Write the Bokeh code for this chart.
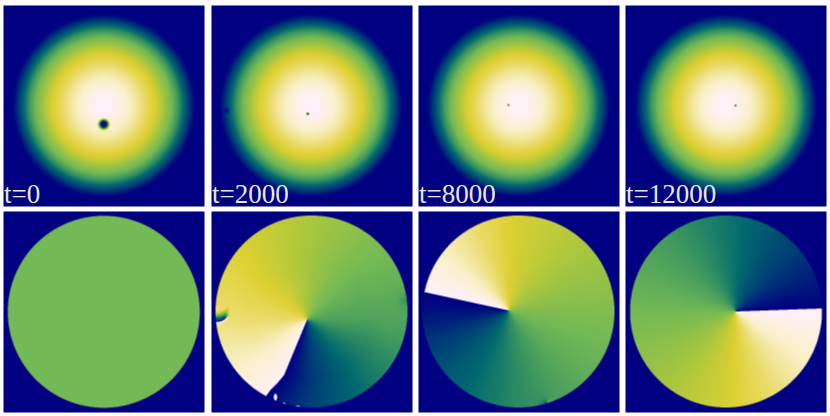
import numpy as np
from bokeh.plotting import figure
from bokeh.models import Range1d
from bokeh.embed import file_html
from bokeh.resources import INLINE

# --- values ---
labels = ["t=0", "t=2000", "t=8000", "t=12000"]

# colour scale (position, r, g, b)
scale_pos = [0.0, 0.12, 0.25, 0.38, 0.5, 0.62, 0.72, 0.8, 0.9, 1.0]
scale_r = [0, 0, 0, 60, 115, 175, 222, 235, 250, 255]
scale_g = [0, 60, 105, 150, 185, 200, 208, 220, 240, 240]
scale_b = [128, 120, 110, 95, 85, 60, 50, 110, 200, 255]

# density against distance from the trap centre (top row)
density_r = [0, 10, 22, 35, 45, 52, 60, 68, 75, 80, 85, 90, 93, 400]
density_v = [1.0, 0.98, 0.92, 0.84, 0.76, 0.71, 0.6, 0.5, 0.37, 0.25, 0.12, 0.02, 0.0, 0.0]

# phase against clockwise fraction of a turn from the cut (bottom row)
phase_f2 = [0, 0.186, 0.31, 0.436, 0.56, 0.686, 0.81, 0.936, 1]
phase_v2 = [0.98, 0.8, 0.71, 0.6, 0.5, 0.42, 0.27, 0.1, 0.0]
phase_f3 = [0, 0.216, 0.34, 0.466, 0.59, 0.716, 0.84, 0.966, 1]
phase_v3 = [1.0, 0.72, 0.62, 0.53, 0.45, 0.33, 0.2, 0.03, 0.0]
phase_f4 = [0, 0.13, 0.256, 0.38, 0.506, 0.63, 0.756, 0.88, 1]
phase_v4 = [1.0, 0.87, 0.72, 0.6, 0.5, 0.4, 0.27, 0.12, 0.0]
phase_flat = 0.5

# cut bearing (degrees clockwise from north) per panel, and its bend with radius in panel 2
cut_bearing = [202.6, 282.3, 88.0]
bend_r = [0, 60, 70, 80, 96, 400]
bend_deg = [0, 0, 2.5, 5, 6.5, 6.5]

# layout (pixels)
W, H = 830, 416
SS = 3
panel_x = [(3, 204), (211, 412), (418, 619), (625, 826)]
top_y, bot_y = (5, 206), (211, 412)
top_cx = [103.3, 310.6, 518, 725.5]
top_cy = 105
disc_c = [(103.3, 311.3), (311, 311), (518, 311), (725.5, 311)]
disc_R = 96
vortex = [(306.7, 319), (508.3, 310), (735, 311)]
# density holes: panel, x, y, radius, depth
holes = [(0, 103.3, 123.7, 5.0, 1.0), (1, 307.3, 113.3, 1.4, 0.85), (1, 226, 110, 3.0, 0.7),
         (2, 508, 104.5, 1.3, 0.6), (3, 735, 105, 1.3, 0.65)]
# phase defects near the rim: panel, x, y, reference bearing, start, end, decay
defects = [(2, 546.7, 401.7, 180, -0.35, 0.3, 4.0), (1, 404, 300, 90, -0.1, -0.1, 4.0)]
# white flecks of panel 2: x, y, rx, ry
flecks = [(275, 396.7, 1.6, 3.5), (283, 403, 2.0, 0.8), (297, 406, 2.5, 0.7)]

# --- colour map ---
lut = np.linspace(0, 1, 1024)
lut_rgb = np.stack([np.interp(lut, scale_pos, c) for c in (scale_r, scale_g, scale_b)], axis=1)


def to_rgba(v):
    """Colour a supersampled field and average it down to screen pixels."""
    rgb = lut_rgb[np.clip((v * 1023).astype(int), 0, 1023)]
    h, w = v.shape
    rgb = rgb.reshape(h // SS, SS, w // SS, SS, 3).mean(axis=(1, 3))
    out = np.zeros(rgb.shape[:2], dtype=np.uint32)
    view = out.view(dtype=np.uint8).reshape(out.shape + (4,))
    view[..., :3] = rgb.round().astype(np.uint8)
    view[..., 3] = 255
    return out[::-1]


def grid(xs, ys):
    px = xs[0] + (np.arange((xs[1] - xs[0]) * SS) + 0.5) / SS
    py = ys[0] + (np.arange((ys[1] - ys[0]) * SS) + 0.5) / SS
    return np.meshgrid(px, py)


def density_panel(i):
    X, Y = grid(panel_x[i], top_y)
    v = np.interp(np.hypot(X - top_cx[i], Y - top_cy), density_r, density_v)
    for k, x, y, rc, depth in holes:
        if k == i:
            v = v * (1 - depth * np.exp(-(np.hypot(X - x, Y - y) / rc) ** 4))
    return to_rgba(v)


def phase_panel(i):
    X, Y = grid(panel_x[i], bot_y)
    cx, cy = disc_c[i]
    inside = np.hypot(X - cx, Y - cy) < disc_R
    if i == 0:
        v = np.full_like(X, phase_flat)
    else:
        vx, vy = vortex[i - 1]
        dx, dy = X - vx, Y - vy
        r = np.hypot(dx, dy)
        bearing = np.degrees(np.arctan2(dx, -dy))
        cut = cut_bearing[i - 1] + (np.interp(r, bend_r, bend_deg) if i == 1 else 0)
        f = ((bearing - cut) % 360) / 360
        fs, vs = {1: (phase_f2, phase_v2), 2: (phase_f3, phase_v3), 3: (phase_f4, phase_v4)}[i]
        v = np.interp(f, fs, vs)
        for k, x, y, ref, a, b, dec in defects:
            if k == i:
                ddx, ddy = X - x, Y - y
                th = ((np.degrees(np.arctan2(ddx, -ddy)) - ref) % 360) / 360
                v = v + (a + (b - a) * th) * np.exp(-np.hypot(ddx, ddy) / dec)
        v = np.clip(v, 0, 1)
        if i == 1:
            # the small vortex at the left rim: dark above a curved edge, white below it
            edge = 321.5 - 5.5 * np.clip((X - 214) / 13, 0, 1) ** 3
            d = edge - Y
            fade = np.clip((229 - X) / 5, 0, 1)
            dark = np.clip(d / 10, 0, 1) * 0.75
            v = np.where((d >= 0) & (d < 10), v * (1 - fade) + dark * fade, v)
            v = np.where((d < 0) & (d > -3.5) & (X < 228), np.maximum(v, 1 + d / 14), v)
            for x, y, rx, ry in flecks:
                v = np.where(((X - x) / rx) ** 2 + ((Y - y) / ry) ** 2 < 1, 1.0, v)
    return to_rgba(np.where(inside, v, 0.0))


p = figure(width=W, height=H, x_range=Range1d(0, W), y_range=Range1d(0, H),
           output_backend="svg", toolbar_location=None, min_border=0,
           margin=(0, -8, 0, 0))
p.axis.visible = False
p.grid.visible = False
p.outline_line_color = None
p.background_fill_color = "white"
p.border_fill_color = "white"

for i in range(4):
    x0, x1 = panel_x[i]
    p.image_rgba(image=[density_panel(i)], x=x0, y=H - top_y[1], dw=x1 - x0, dh=top_y[1] - top_y[0])
    p.image_rgba(image=[phase_panel(i)], x=x0, y=H - bot_y[1], dw=x1 - x0, dh=bot_y[1] - bot_y[0])
    p.text(x=[x0 + 0.5], y=[H - 193], text=[labels[i]], text_color="white", text_alpha=0.92,
           text_font={"value": "Liberation Serif"}, text_font_size="27px",
           text_baseline="alphabetic", text_align="left")

open("out.html", "w").write(file_html(p, INLINE))
